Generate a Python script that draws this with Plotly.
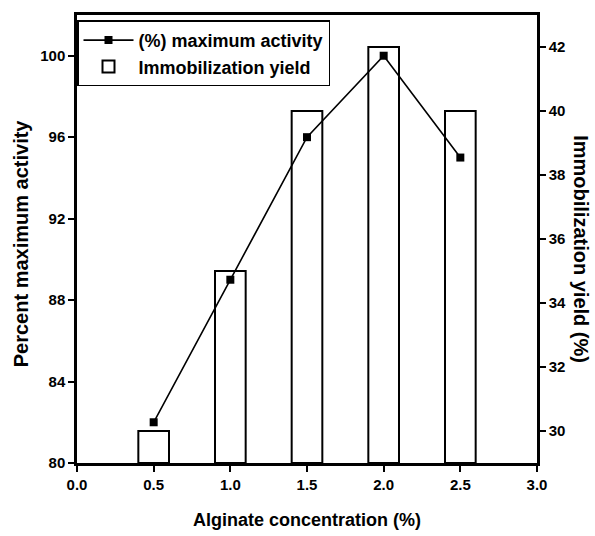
import plotly.graph_objects as go

# Alginate concentration (%) tested
concentration = [0.5, 1.0, 1.5, 2.0, 2.5]
# Percent maximum activity (left axis)
max_activity = [82, 89, 96, 100, 95]
# Immobilization yield (%) (right axis)
immob_yield = [30, 35, 40, 42, 40]

x_ticks = [0.0, 0.5, 1.0, 1.5, 2.0, 2.5, 3.0]
left_ticks = [80, 84, 88, 92, 96, 100]
right_ticks = [30, 32, 34, 36, 38, 40, 42]

FONT = "Liberation Sans, Arial, sans-serif"
TICK_SIZE = 15
Y2_BASE = 29

fig = go.Figure()

fig.add_trace(go.Scatter(
    x=concentration, y=max_activity,
    mode="lines+markers",
    name="<b>(%) maximum activity</b>",
    line=dict(color="black", width=1.6),
    marker=dict(symbol="square", size=8, color="black"),
    yaxis="y",
    legendrank=1,
))

fig.add_trace(go.Bar(
    x=concentration,
    y=[v - Y2_BASE for v in immob_yield],
    base=Y2_BASE,
    width=0.2,
    name="<b>Immobilization yield</b>",
    marker=dict(color="rgba(255,255,255,0)", line=dict(color="black", width=2)),
    yaxis="y2",
    legendrank=2,
))

axis_common = dict(
    showgrid=False, zeroline=False,
    showline=True, linecolor="black", linewidth=2.5,
    ticks="outside", ticklen=6, tickwidth=2, tickcolor="black",
    tickfont=dict(family=FONT, size=TICK_SIZE),
)

fig.update_layout(
    width=595, height=536,
    margin=dict(l=77, r=58, t=13, b=73),
    paper_bgcolor="white",
    plot_bgcolor="white",
    font=dict(family=FONT, size=TICK_SIZE, color="black"),
    showlegend=True,
    legend=dict(
        x=0, y=0.988, xanchor="left", yanchor="top",
        bordercolor="black", borderwidth=1.5,
        bgcolor="white",
        font=dict(family=FONT, size=18, color="black"),
        tracegroupgap=0,
        itemwidth=50,
    ),
    xaxis=dict(
        range=[0, 3], tickvals=x_ticks,
        ticktext=["<b>%.1f</b>" % t for t in x_ticks],
        mirror=True, **axis_common,
    ),
    yaxis=dict(
        range=[80, 102], tickvals=left_ticks,
        ticktext=["<b>%d</b>" % t for t in left_ticks],
        mirror=True, **axis_common,
    ),
    yaxis2=dict(
        range=[Y2_BASE, 43], tickvals=right_ticks,
        ticktext=["<b>%d</b>" % t for t in right_ticks],
        overlaying="y", side="right",
        **axis_common,
    ),
    annotations=[
        dict(text="<b>Alginate concentration (%)</b>", xref="paper", yref="paper",
             x=0.5, y=-0.127, xanchor="center", yanchor="middle",
             showarrow=False, font=dict(family=FONT, size=18)),
        dict(text="<b>Percent maximum activity</b>", xref="paper", yref="paper",
             x=-0.12, y=0.49, xanchor="center", yanchor="middle", textangle=-90,
             showarrow=False, font=dict(family=FONT, size=20)),
        dict(text="<b>Immobilization yield (%)</b>", xref="paper", yref="paper",
             x=1.095, y=0.478, xanchor="center", yanchor="middle", textangle=90,
             showarrow=False, font=dict(family=FONT, size=20)),
    ],
)

fig.write_html("out.html")
